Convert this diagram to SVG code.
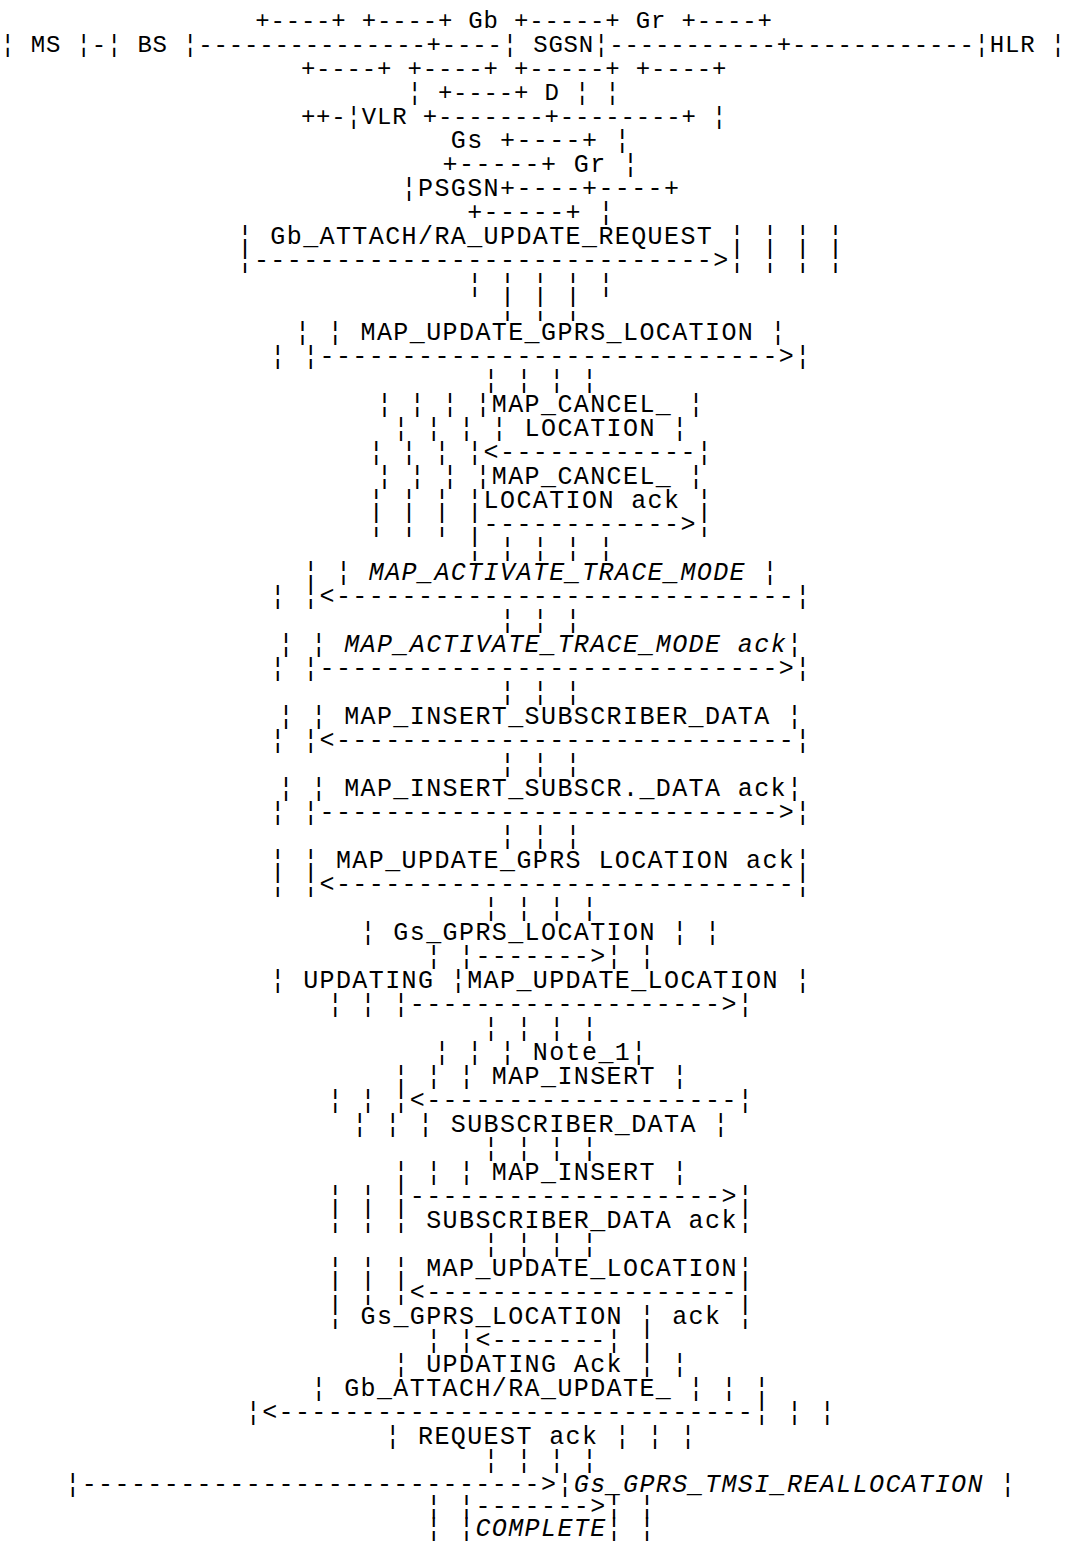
<svg xmlns="http://www.w3.org/2000/svg" width="1066" height="1544" viewBox="0 0 1066 1544">
<style>
text{font-family:"Liberation Mono","Courier New",monospace;font-size:25px;letter-spacing:1.4px;fill:#000;text-anchor:middle}
text.top{font-size:24px;letter-spacing:0.82px}
text.wide{text-anchor:start}
.i{font-style:italic}
</style>
<rect width="1066" height="1544" fill="#fff"/>
<g id="network">
<text class="top" x="514" y="28">+----+ +----+ Gb +-----+ Gr +----+</text>
<text class="top wide" x="0.4" y="52">¦ MS ¦-¦ BS ¦---------------+----¦ SGSN¦-----------+------------¦HLR ¦</text>
<text class="top" x="514" y="76">+----+ +----+ +-----+ +----+</text>
<text class="top" x="514" y="100">¦ +----+ D ¦ ¦</text>
<text class="top" x="514" y="124">++-¦VLR +-------+--------+ ¦</text>
<text x="541" y="148">Gs +----+ ¦</text>
<text x="541" y="172">+-----+ Gr ¦</text>
<text x="541" y="196">¦PSGSN+----+----+</text>
<text x="541" y="220">+-----+ ¦</text>
</g>
<g id="messages">
<text x="541" y="244">¦ Gb_ATTACH/RA_UPDATE_REQUEST ¦ ¦ ¦ ¦</text>
<text x="541" y="268">¦---------------------------->¦ ¦ ¦ ¦</text>
<text x="541" y="292">¦ ¦ ¦ ¦ ¦</text>
<text x="541" y="316">¦ ¦ ¦</text>
<text x="541" y="340">¦ ¦ MAP_UPDATE_GPRS_LOCATION ¦</text>
<text x="541" y="364">¦ ¦---------------------------->¦</text>
<text x="541" y="388">¦ ¦ ¦ ¦</text>
<text x="541" y="412">¦ ¦ ¦ ¦MAP_CANCEL_ ¦</text>
<text x="541" y="436">¦ ¦ ¦ ¦ LOCATION ¦</text>
<text x="541" y="460">¦ ¦ ¦ ¦&lt;------------¦</text>
<text x="541" y="484">¦ ¦ ¦ ¦MAP_CANCEL_ ¦</text>
<text x="541" y="508">¦ ¦ ¦ ¦LOCATION ack ¦</text>
<text x="541" y="532">¦ ¦ ¦ ¦------------>¦</text>
<text x="541" y="556">¦ ¦ ¦ ¦ ¦</text>
<text x="541" y="580">¦ ¦ <tspan class="i">MAP_ACTIVATE_TRACE_MODE</tspan> ¦</text>
<text x="541" y="604">¦ ¦&lt;----------------------------¦</text>
<text x="541" y="628">¦ ¦ ¦</text>
<text x="541" y="652">¦ ¦ <tspan class="i">MAP_ACTIVATE_TRACE_MODE ack</tspan>¦</text>
<text x="541" y="676">¦ ¦---------------------------->¦</text>
<text x="541" y="700">¦ ¦ ¦</text>
<text x="541" y="724">¦ ¦ MAP_INSERT_SUBSCRIBER_DATA ¦</text>
<text x="541" y="748">¦ ¦&lt;----------------------------¦</text>
<text x="541" y="772">¦ ¦ ¦</text>
<text x="541" y="796">¦ ¦ MAP_INSERT_SUBSCR._DATA ack¦</text>
<text x="541" y="820">¦ ¦---------------------------->¦</text>
<text x="541" y="844">¦ ¦ ¦</text>
<text x="541" y="868">¦ ¦ MAP_UPDATE_GPRS LOCATION ack¦</text>
<text x="541" y="892">¦ ¦&lt;----------------------------¦</text>
<text x="541" y="916">¦ ¦ ¦ ¦</text>
<text x="541" y="940">¦ Gs_GPRS_LOCATION ¦ ¦</text>
<text x="541" y="964">¦ ¦------->¦ ¦</text>
<text x="541" y="988">¦ UPDATING ¦MAP_UPDATE_LOCATION ¦</text>
<text x="541" y="1012">¦ ¦ ¦------------------->¦</text>
<text x="541" y="1036">¦ ¦ ¦ ¦</text>
<text x="541" y="1060">¦ ¦ ¦ Note_1¦</text>
<text x="541" y="1084">¦ ¦ ¦ MAP_INSERT ¦</text>
<text x="541" y="1108">¦ ¦ ¦&lt;-------------------¦</text>
<text x="541" y="1132">¦ ¦ ¦ SUBSCRIBER_DATA ¦</text>
<text x="541" y="1156">¦ ¦ ¦ ¦</text>
<text x="541" y="1180">¦ ¦ ¦ MAP_INSERT ¦</text>
<text x="541" y="1204">¦ ¦ ¦------------------->¦</text>
<text x="541" y="1228">¦ ¦ ¦ SUBSCRIBER_DATA ack¦</text>
<text x="541" y="1252">¦ ¦ ¦ ¦</text>
<text x="541" y="1276">¦ ¦ ¦ MAP_UPDATE_LOCATION¦</text>
<text x="541" y="1300">¦ ¦ ¦&lt;-------------------¦</text>
<text x="541" y="1324">¦ Gs_GPRS_LOCATION ¦ ack ¦</text>
<text x="541" y="1348">¦ ¦&lt;-------¦ ¦</text>
<text x="541" y="1372">¦ UPDATING Ack ¦ ¦</text>
<text x="541" y="1396">¦ Gb_ATTACH/RA_UPDATE_ ¦ ¦ ¦</text>
<text x="541" y="1420">¦&lt;-----------------------------¦ ¦ ¦</text>
<text x="541" y="1444">¦ REQUEST ack ¦ ¦ ¦</text>
<text x="541" y="1468">¦ ¦ ¦ ¦</text>
<text x="541" y="1492">¦---------------------------->¦<tspan class="i">Gs_GPRS_TMSI_REALLOCATION</tspan> ¦</text>
<text x="541" y="1514">¦ ¦------->¦ ¦</text>
<text x="541" y="1536">¦ ¦<tspan class="i">COMPLETE</tspan>¦ ¦</text>
</g>
</svg>
